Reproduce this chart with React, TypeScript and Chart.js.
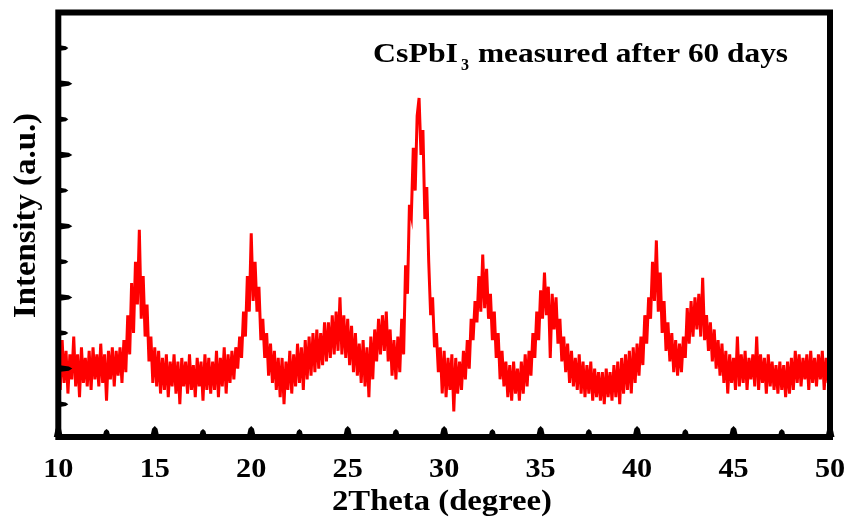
import { useEffect, useRef } from "react";
import { Chart, registerables } from "chart.js";

Chart.register(...registerables);

// 2Theta sampling of the scan
const THETA_START = 10;
const THETA_STEP = 0.1;

// Intensity (a.u.), one value per 0.1 degree
const intensity10to20 = [
  2.3, 1.4, 2.8, 1.6, 2.5, 1.3, 2.4, 1.7, 2.9, 1.5, 2.4, 1.2, 2.6, 1.6, 2.3, 1.5, 2.5, 1.4, 2.6, 1.7,
  2.4, 1.5, 2.7, 1.6, 2.4, 1.1, 2.5, 1.7, 2.6, 1.5, 2.5, 1.8, 2.6, 1.6, 2.8, 1.9, 3.5, 2.4, 4.4, 3.0,
  5.0, 3.8, 5.9, 3.4, 4.6, 2.9, 3.8, 2.2, 2.9, 1.6, 2.6, 1.5, 2.5, 1.3, 2.3, 1.4, 2.4, 1.2, 2.2, 1.5,
  2.4, 1.3, 2.2, 1.0, 2.3, 1.5, 2.2, 1.3, 2.4, 1.4, 2.1, 1.2, 2.3, 1.5, 2.2, 1.1, 2.4, 1.4, 2.3, 1.3,
  2.2, 1.4, 2.5, 1.2, 2.3, 1.5, 2.6, 1.3, 2.4, 1.6, 2.5, 1.7, 2.6, 2.0, 2.9, 2.3, 3.6, 2.9, 4.6, 3.6,
];
const intensity20to30 = [
  5.8, 3.9, 5.0, 3.6, 4.3, 2.8, 3.4, 2.3, 3.0, 1.8, 2.7, 1.6, 2.5, 1.4, 2.3, 1.2, 2.3, 1.0, 2.2, 1.4,
  2.5, 1.3, 2.4, 1.5, 2.7, 1.6, 2.6, 1.4, 2.8, 1.7, 2.9, 1.8, 3.0, 1.9, 3.1, 2.0, 3.0, 2.1, 3.3, 2.2,
  3.3, 2.3, 3.5, 2.4, 3.6, 2.5, 4.0, 2.4, 3.5, 2.3, 3.4, 2.1, 3.2, 1.9, 3.0, 1.8, 2.7, 1.6, 2.8, 1.5,
  2.6, 1.2, 2.9, 1.7, 3.1, 2.2, 3.4, 2.4, 3.5, 2.5, 3.6, 2.2, 3.1, 1.8, 2.8, 1.7, 2.9, 1.9, 3.4, 2.4,
  4.9, 4.1, 6.6, 6.3, 8.2, 7.0, 9.1, 9.6, 8.0, 8.7, 6.2, 7.1, 5.0, 3.5, 4.0, 2.6, 3.0, 1.9, 2.6, 1.3,
];
const intensity30to40 = [
  2.5, 1.2, 2.3, 1.4, 2.4, 0.8, 2.3, 1.3, 2.2, 1.4, 2.5, 1.7, 2.8, 2.0, 3.4, 2.8, 3.9, 3.3, 4.6, 3.6,
  5.2, 3.7, 4.8, 3.4, 4.1, 2.8, 3.6, 2.3, 3.0, 1.7, 2.5, 1.5, 2.2, 1.2, 2.1, 1.1, 2.2, 1.3, 2.0, 1.1,
  2.2, 1.3, 2.4, 1.5, 2.5, 1.8, 3.0, 2.3, 3.6, 2.8, 4.2, 3.4, 4.7, 3.5, 4.3, 2.3, 4.1, 3.1, 4.0, 2.7,
  3.4, 2.2, 2.9, 1.9, 2.7, 1.6, 2.5, 1.5, 2.3, 1.4, 2.4, 1.3, 2.2, 1.2, 2.1, 1.3, 2.2, 1.1, 2.0, 1.2,
  1.9, 1.1, 1.9, 1.0, 2.0, 1.2, 1.9, 1.1, 2.1, 1.2, 2.2, 1.0, 2.3, 1.3, 2.4, 1.4, 2.5, 1.3, 2.6, 1.6,
];
const intensity40to50 = [
  2.7, 1.8, 2.9, 2.1, 3.5, 2.7, 4.0, 3.4, 5.0, 3.9, 5.6, 3.6, 4.7, 3.0, 3.9, 2.5, 3.3, 2.2, 3.0, 1.9,
  2.8, 1.8, 2.7, 1.9, 2.9, 2.3, 3.7, 2.7, 3.9, 2.9, 4.0, 3.1, 4.1, 2.9, 4.55, 2.8, 3.5, 2.5, 3.3, 2.2,
  3.1, 2.0, 2.8, 1.8, 2.7, 1.6, 2.5, 1.3, 2.4, 1.6, 2.3, 1.4, 2.9, 1.5, 2.4, 1.6, 2.5, 1.4, 2.3, 1.7,
  2.4, 1.5, 2.9, 1.4, 2.4, 1.6, 2.3, 1.3, 2.4, 1.5, 2.2, 1.4, 2.1, 1.3, 2.2, 1.4, 2.1, 1.2, 2.2, 1.3,
  2.3, 1.4, 2.5, 1.6, 2.4, 1.5, 2.3, 1.7, 2.4, 1.4, 2.5, 1.6, 2.3, 1.5, 2.4, 1.7, 2.5, 1.4, 2.3, 1.6,
  2.1,
];

const xMajorTicks = [10, 15, 20, 25, 30, 35, 40, 45, 50];
const xMinorTicks = [12.5, 17.5, 22.5, 27.5, 32.5, 37.5, 42.5, 47.5];
const yMajorTicks = [2, 4, 6, 8, 10];
const yMinorTicks = [1, 3, 5, 7, 9, 11];

const X_MIN = 10;
const X_MAX = 50;
const Y_MIN = 0.08;
const Y_MAX = 12;

const xTitle = "2Theta (degree)";
const yTitle = "Intensity (a.u.)";
const noteMain = "CsPbI";
const noteSub = "3";
const noteRest = "measured after 60 days";

const SERIF = '"Liberation Serif", "Times New Roman", serif';

function fitText(
  ctx: CanvasRenderingContext2D,
  text: string,
  x: number,
  y: number,
  width: number,
  font: string
) {
  ctx.font = font;
  const w = ctx.measureText(text).width;
  const s = width / w;
  ctx.save();
  ctx.translate(x, y);
  ctx.scale(s, 1);
  ctx.textAlign = "left";
  ctx.textBaseline = "alphabetic";
  ctx.fillText(text, 0, 0);
  ctx.restore();
}

const framePlugin = {
  id: "xrdFrame",
  afterDraw(chart: any) {
    const { ctx, chartArea: a, scales } = chart;
    const xs = scales.x;
    const ys = scales.y;
    ctx.save();
    ctx.fillStyle = "#000";
    ctx.strokeStyle = "#000";

    // inward x ticks
    const xTick = (v: number, w: number, h: number) => {
      const px = xs.getPixelForValue(v);
      ctx.beginPath();
      ctx.moveTo(px - w, a.bottom);
      ctx.lineTo(px - w * 0.6, a.bottom - h * 0.75);
      ctx.lineTo(px, a.bottom - h);
      ctx.lineTo(px + w * 0.6, a.bottom - h * 0.75);
      ctx.lineTo(px + w, a.bottom);
      ctx.closePath();
      ctx.fill();
    };
    xMajorTicks.forEach((v) => xTick(v, 4.5, 11));
    xMinorTicks.forEach((v) => xTick(v, 4, 8));

    // inward y ticks
    const yTick = (v: number, h: number, len: number) => {
      const py = ys.getPixelForValue(v);
      ctx.beginPath();
      ctx.moveTo(a.left, py - h);
      ctx.lineTo(a.left + len * 0.75, py - h * 0.6);
      ctx.lineTo(a.left + len, py);
      ctx.lineTo(a.left + len * 0.75, py + h * 0.6);
      ctx.lineTo(a.left, py + h);
      ctx.closePath();
      ctx.fill();
    };
    yMajorTicks.forEach((v) => yTick(v, 3.5, 14));
    yMinorTicks.forEach((v) => yTick(v, 3, 10));

    // frame
    ctx.lineWidth = 6;
    ctx.lineJoin = "miter";
    ctx.strokeRect(a.left, a.top, a.right - a.left, a.bottom - a.top);

    // x tick labels
    ctx.font = `bold 28px ${SERIF}`;
    xMajorTicks.forEach((v) => {
      const px = xs.getPixelForValue(v);
      const label = String(v);
      const w = ctx.measureText(label).width * 1.08;
      fitText(ctx, label, px - w / 2, 477, w, `bold 28px ${SERIF}`);
      ctx.font = `bold 28px ${SERIF}`;
    });

    // x title
    fitText(ctx, xTitle, 332, 510, 220, `bold 30px ${SERIF}`);

    // y title (rotated)
    ctx.save();
    ctx.translate(35, 318);
    ctx.rotate(-Math.PI / 2);
    fitText(ctx, yTitle, 0, 0, 205, `bold 31px ${SERIF}`);
    ctx.restore();

    // annotation
    fitText(ctx, noteMain, 373, 62, 85, `bold 28px ${SERIF}`);
    fitText(ctx, noteSub, 461, 70, 8, `bold 17px ${SERIF}`);
    fitText(ctx, noteRest, 478, 62, 310, `bold 28px ${SERIF}`);

    ctx.restore();
  },
};

export default function App() {
  const ref = useRef<HTMLCanvasElement | null>(null);

  useEffect(() => {
    document.body.style.margin = "0";
    const canvas = ref.current;
    if (!canvas) return;
    const intensity = [
      ...intensity10to20,
      ...intensity20to30,
      ...intensity30to40,
      ...intensity40to50,
    ];
    const points = intensity.map((y, i) => ({
      x: Math.round((THETA_START + i * THETA_STEP) * 10) / 10,
      y,
    }));

    const chart = new Chart(canvas, {
      type: "line",
      data: {
        datasets: [
          {
            data: points,
            borderColor: "rgb(255,0,0)",
            borderWidth: 3,
            borderJoinStyle: "miter",
            pointRadius: 0,
            tension: 0,
            fill: false,
          },
        ],
      },
      options: {
        responsive: false,
        animation: false,
        devicePixelRatio: 1,
        layout: { padding: { left: 58.3, right: 19, top: 12.5, bottom: 80 } },
        scales: {
          x: { type: "linear", min: X_MIN, max: X_MAX, display: false },
          y: { type: "linear", min: Y_MIN, max: Y_MAX, display: false },
        },
        plugins: {
          legend: { display: false },
          tooltip: { enabled: false },
          title: { display: false },
        },
      },
      plugins: [framePlugin],
    });
    return () => chart.destroy();
  }, []);

  return (
    <div
      style={{
        position: "absolute",
        left: 0,
        top: 0,
        width: 849,
        height: 517,
        background: "#fff",
      }}
    >
      <canvas
        ref={ref}
        width={849}
        height={517}
        style={{ display: "block", width: 849, height: 517 }}
      />
    </div>
  );
}
